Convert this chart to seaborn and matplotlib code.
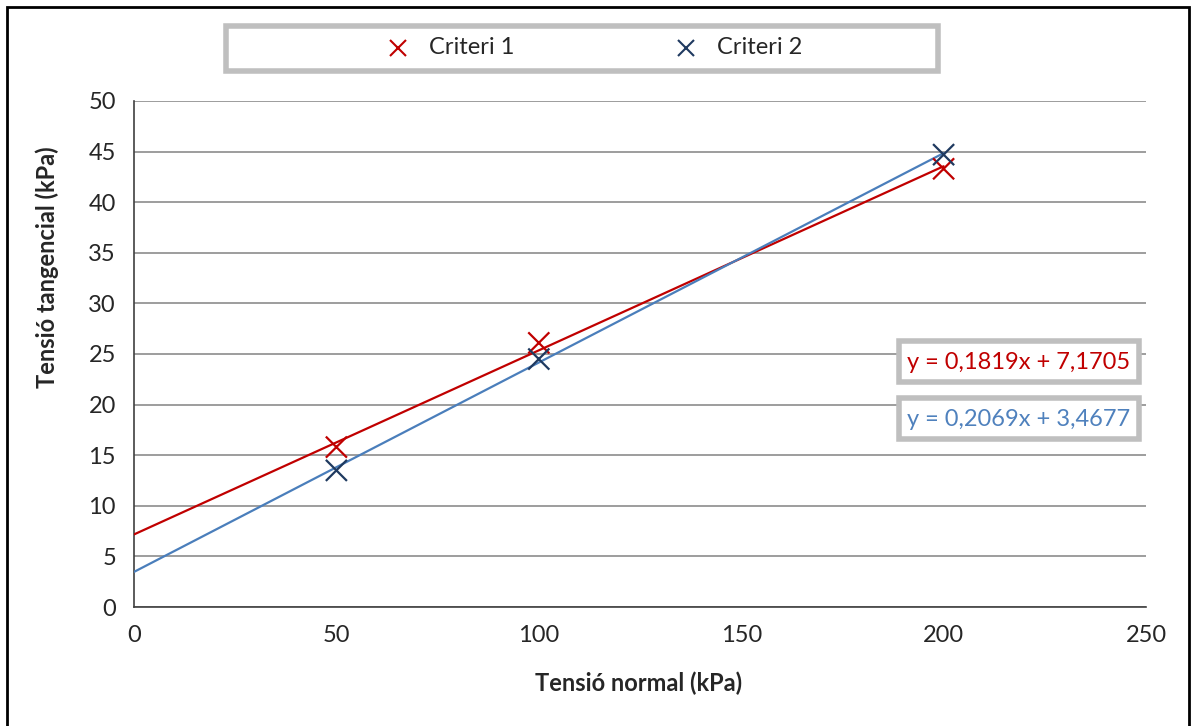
import numpy as np
import pandas as pd
import matplotlib
matplotlib.use('Agg')
import matplotlib.pyplot as plt
from matplotlib.patches import Rectangle
import seaborn as sns

sns.set_style('white')
plt.rcParams['font.family'] = ['Lato', 'DejaVu Sans']

# dades llegides del gràfic
tensio_normal = [50, 100, 200]
criteri1 = [15.8, 26.1, 43.3]
criteri2 = [13.5, 24.5, 44.7]
series_names = ['Criteri 1', 'Criteri 2']
# línies de tendència (equacions del gràfic)
pendents = [0.1819, 0.2069]
ordenades = [7.1705, 3.4677]
eq_labels = ['y = 0,1819x + 7,1705', 'y = 0,2069x + 3,4677']
x_ticks = [0, 50, 100, 150, 200, 250]
y_ticks = [0, 5, 10, 15, 20, 25, 30, 35, 40, 45, 50]

marker_colors = ['#C00000', '#1F3A60']
line_colors = ['#C00000', '#4A7EBB']
eq_colors = ['#C00000', '#4F81BD']

W, H = 1196, 726

df = pd.DataFrame({
    'x': tensio_normal * 2,
    'y': criteri1 + criteri2,
    'serie': [series_names[0]] * 3 + [series_names[1]] * 3,
})


def fx(px):
    return px / W


def fy(py):
    return 1 - py / H


fig = plt.figure(figsize=(W / 100, H / 100), dpi=100)
ax = fig.add_axes([fx(134), fy(607), (1146 - 134) / W, (607 - 101) / H])

# línies de tendència de 0 a 200
for i, name in enumerate(series_names):
    xs = np.array([0, 200])
    sns.lineplot(x=xs, y=pendents[i] * xs + ordenades[i], ax=ax,
                 color=line_colors[i], linewidth=1.6, zorder=3)

sns.scatterplot(data=df, x='x', y='y', hue='serie', palette=marker_colors,
                marker='x', s=230, linewidth=1.6, ax=ax, legend=False, zorder=4)

ax.set_xlim(0, 250)
ax.set_ylim(0, 50)
ax.set_xticks(x_ticks)
ax.set_yticks(y_ticks)
ax.tick_params(axis='both', labelsize=17, direction='out', length=6,
               width=1.2, color='#404040', pad=7)
ax.yaxis.grid(True, color='#8C8C8C', linewidth=1.2)
ax.xaxis.grid(False)
for s in ['top', 'right']:
    ax.spines[s].set_visible(False)
for s in ['left', 'bottom']:
    ax.spines[s].set_color('#404040')
    ax.spines[s].set_linewidth(1.2)
ax.set_xlabel('')
ax.set_ylabel('')
fig.text(fx(639), fy(683), 'Tensió normal (kPa)', fontsize=17,
         fontweight='bold', ha='center', va='center')
fig.text(fx(47), fy(267), 'Tensió tangencial (kPa)', fontsize=17,
         fontweight='bold', ha='center', va='center', rotation=90)

# marc exterior
fig.patches.append(Rectangle((fx(7), -0.01), fx(1182), 1 - 7 / H + 0.01,
                             transform=fig.transFigure, fill=False,
                             edgecolor='black', linewidth=2))

# llegenda
fig.patches.append(Rectangle((fx(226), fy(71)), fx(712), 45 / H,
                             transform=fig.transFigure, facecolor='white',
                             edgecolor='#BFBFBF', linewidth=4))
for i, name in enumerate(series_names):
    mx = [398, 686][i]
    fig.lines.append(plt.Line2D([fx(mx)], [fy(48)], marker='x',
                                markersize=12, markeredgewidth=1.5,
                                color=marker_colors[i], linestyle='none',
                                transform=fig.transFigure))
    fig.text(fx(mx + 31), fy(48), name, fontsize=17,
             va='center', ha='left')

# equacions
for i, lab in enumerate(eq_labels):
    top = [341, 398][i]
    fig.patches.append(Rectangle((fx(899), fy(top + 41)), fx(240), 41 / H,
                                 transform=fig.transFigure, facecolor='white',
                                 edgecolor='#BFBFBF', linewidth=4, zorder=5))
    fig.text(fx(1019), fy(top + 21), lab, fontsize=17, color=eq_colors[i],
             ha='center', va='center', zorder=6)

fig.savefig('out.png', dpi=100)
